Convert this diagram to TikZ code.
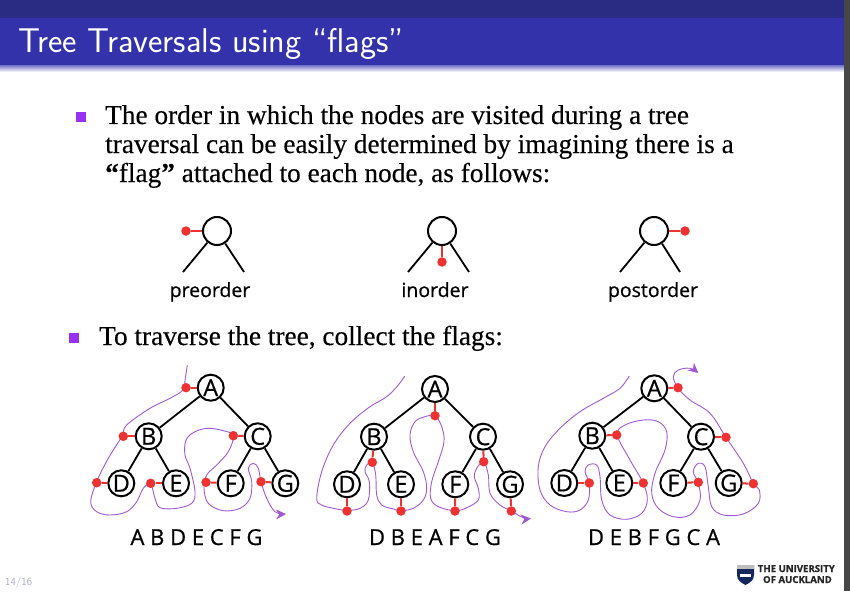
\documentclass[tikz,border=0pt]{standalone}
\usepackage{fontspec}
\setmainfont[RawFeature={embolden=0.25}]{Liberation Serif}
\newfontfamily\labelfont[RawFeature={embolden=0.7}]{Open Sans}
\usetikzlibrary{arrows.meta,shadings}
\definecolor{headdark}{RGB}{42,44,132}
\definecolor{headblue}{RGB}{52,50,170}
\definecolor{bulletpurple}{RGB}{150,50,240}
\definecolor{flagred}{RGB}{238,50,50}
\definecolor{tourpurple}{RGB}{160,90,215}
\definecolor{logoblue}{RGB}{22,40,90}
\definecolor{pagegray}{RGB}{170,170,210}
\tikzset{
  treenode/.style={circle, draw=black, line width=2pt, fill=white, minimum size=26pt, inner sep=0pt, font=\labelfont\fontsize{23.5}{23.5}\selectfont},
  treeedge/.style={line width=1.8pt, black},
  flag/.style={circle, fill=flagred, minimum size=9.5pt, inner sep=0pt},
  flagline/.style={line width=2pt, flagred},
  tour/.style={line width=0.9pt, tourpurple, smooth},
  bodytext/.style={anchor=base west, inner sep=0pt, font=\fontsize{27.3}{29}\selectfont},
  bulletmark/.style={fill=bulletpurple, minimum size=10pt, inner sep=0pt},
  caption/.style={anchor=base, inner sep=0pt, font=\labelfont\fontsize{19.5}{19.5}\selectfont},
  travtext/.style={anchor=base, inner sep=0pt, font=\labelfont\fontsize{22}{22}\selectfont},
  logotext/.style={anchor=base east, inner sep=0pt, text=black!85, font=\labelfont\bfseries\fontsize{9.6}{9.6}\selectfont}
}
\begin{document}
\begin{tikzpicture}[x=1pt, y=-1pt]
    \useasboundingbox (0,0) rectangle (850,591);
    \fill[white] (0,0) rectangle (850,591);

    % Header
    \fill[headdark] (0,0) rectangle (850,18);
    \fill[headblue] (0,18) rectangle (850,66);
    \shade[top color=headblue!60, bottom color=white] (0,66) rectangle (850,72);
    \node[anchor=base west, white, inner sep=0pt, font=\sffamily\fontsize{34.3}{34.3}\selectfont] (title) at (18,53) {Tree Traversals using ``flags''};
    \fill[black!72] (844,0) rectangle (850,591);

    % Text
    \node[bulletmark] (mark1) at (81,117) {};
    \node[bodytext] (line1) at (105,124) {The order in which the nodes are visited during a tree};
    \node[bodytext] (line2) at (105,153) {traversal can be easily determined by imagining there is a};
    \node[bodytext] (line3) at (105,182) {\textbf{``}flag\textbf{''} attached to each node, as follows:};
    \node[bulletmark] (mark2) at (74,338) {};
    \node[bodytext] (line4) at (99,345) {To traverse the tree, collect the flags:};

    % Preorder key
    \node[treenode, minimum size=28pt] (pre) at (217,231) {};
    \coordinate (preleft) at (183,272);
    \coordinate (preright) at (244,272);
    \draw[treeedge] (pre) -- (preleft);
    \draw[treeedge] (pre) -- (preright);
    \node[flag] (fpre) at (186,231) {};
    \draw[flagline] (fpre) -- (pre);
    \node[caption] (cpre) at (210,297) {preorder};

    % Inorder key
    \node[treenode, minimum size=28pt] (ino) at (442,231) {};
    \coordinate (inoleft) at (408,272);
    \coordinate (inoright) at (469,272);
    \draw[treeedge] (ino) -- (inoleft);
    \draw[treeedge] (ino) -- (inoright);
    \node[flag] (fino) at (442,262) {};
    \draw[flagline] (fino) -- (ino);
    \node[caption] (cino) at (435,297) {inorder};

    % Postorder key
    \node[treenode, minimum size=28pt] (post) at (654,231) {};
    \coordinate (postleft) at (620,272);
    \coordinate (postright) at (680,272);
    \draw[treeedge] (post) -- (postleft);
    \draw[treeedge] (post) -- (postright);
    \node[flag] (fpost) at (685,231) {};
    \draw[flagline] (fpost) -- (post);
    \node[caption] (cpost) at (653,297) {postorder};

    % First tree
    \node[treenode] (a1) at (210.7,387.7) {A};
    \node[treenode] (b1) at (148.7,436.3) {B};
    \node[treenode] (c1) at (257.7,436.3) {C};
    \node[treenode] (d1) at (121.3,483.3) {D};
    \node[treenode] (e1) at (176,483.3) {E};
    \node[treenode] (f1) at (230.7,483.3) {F};
    \node[treenode] (g1) at (285.3,483.3) {G};
    \draw[treeedge] (a1) -- (b1);
    \draw[treeedge] (a1) -- (c1);
    \draw[treeedge] (b1) -- (d1);
    \draw[treeedge] (b1) -- (e1);
    \draw[treeedge] (c1) -- (f1);
    \draw[treeedge] (c1) -- (g1);
    \draw[tour, -{Stealth[length=10pt,width=10pt]}] plot[smooth, tension=0.6] coordinates {(187.3,365) (185.3,378.3) (182.7,390) (170,398.3) (150,408.3) (126.7,425) (121.7,436.7) (108.3,458.3) (96.7,481.7) (90.7,501.7) (96.7,511.7) (110,515) (126.7,511.7) (136.7,501.7) (143.3,488.3) (150.7,484.3) (155,498.3) (160,507.7) (176.7,508.3) (191.7,503.3) (195,491.7) (190,468.3) (185,455) (186,440) (195,431.7) (208.3,428.3) (223.3,430.7) (233.3,435.7) (228.3,451.7) (216.7,465) (206.7,475) (204,488.3) (208.3,503.3) (223.3,510.7) (240,508.3) (250,498.3) (251.7,481.7) (248.3,468.3) (253.3,463.3) (258.3,468.3) (261,481.7) (266.7,498.3) (275,511.7) (286,514)};
    \node[flag] (fa1) at (186,387.7) {};
    \node[flag] (fb1) at (123.3,436.3) {};
    \node[flag] (fc1) at (233.3,435.7) {};
    \node[flag] (fd1) at (96.7,482.7) {};
    \node[flag] (fe1) at (150.7,483.3) {};
    \node[flag] (ff1) at (206,482.3) {};
    \node[flag] (fg1) at (261,481.7) {};
    \draw[flagline] (fa1) -- (a1);
    \draw[flagline] (fb1) -- (b1);
    \draw[flagline] (fc1) -- (c1);
    \draw[flagline] (fd1) -- (d1);
    \draw[flagline] (fe1) -- (e1);
    \draw[flagline] (ff1) -- (f1);
    \draw[flagline] (fg1) -- (g1);
    \node[travtext] (order1) at (196.5,545) {A B D E C F G};

    % Second tree
    \node[treenode] (a2) at (435,389) {A};
    \node[treenode] (b2) at (374,436.7) {B};
    \node[treenode] (c2) at (483,436.7) {C};
    \node[treenode] (d2) at (347,484.3) {D};
    \node[treenode] (e2) at (401,484.3) {E};
    \node[treenode] (f2) at (455.3,484.3) {F};
    \node[treenode] (g2) at (510,484.3) {G};
    \draw[treeedge] (a2) -- (b2);
    \draw[treeedge] (a2) -- (c2);
    \draw[treeedge] (b2) -- (d2);
    \draw[treeedge] (b2) -- (e2);
    \draw[treeedge] (c2) -- (f2);
    \draw[treeedge] (c2) -- (g2);
    \draw[tour, -{Stealth[length=10pt,width=10pt]}] plot[smooth, tension=0.6] coordinates {(404.7,376) (398.3,385) (386.7,396.7) (370,406.7) (350,423.3) (333.3,445) (321.7,471.7) (316.7,498.3) (321.7,505) (333.3,508.3) (347,510.3) (360,508.3) (368.3,500) (369.3,481.7) (365,471.7) (366.7,465) (372.3,462.3) (375.7,475) (376.7,495) (381.7,505) (393.3,509) (401,510.7) (413.3,508.3) (423.3,500) (426.7,488.3) (423.3,471.7) (413.3,451.7) (410,435) (415,421.7) (425,416.7) (435,415.7) (441.7,426.7) (444,441.7) (438.3,461.7) (431.7,481.7) (430.7,498.3) (438.3,506.7) (455,510.7) (466.7,507.7) (478.3,500) (478.3,488.3) (474.3,476.7) (476.7,468.3) (483.7,461.7) (488.3,475) (490,493.3) (500,505) (511.3,511) (523.3,517.7) (531,518.5)};
    \node[flag] (fa2) at (435,415.7) {};
    \node[flag] (fb2) at (372.3,462.3) {};
    \node[flag] (fc2) at (483.7,461.7) {};
    \node[flag] (fd2) at (347,511) {};
    \node[flag] (fe2) at (401,511) {};
    \node[flag] (ff2) at (455,511) {};
    \node[flag] (fg2) at (511.3,511) {};
    \draw[flagline] (fa2) -- (a2);
    \draw[flagline] (fb2) -- (b2);
    \draw[flagline] (fc2) -- (c2);
    \draw[flagline] (fd2) -- (d2);
    \draw[flagline] (fe2) -- (e2);
    \draw[flagline] (ff2) -- (f2);
    \draw[flagline] (fg2) -- (g2);
    \node[travtext] (order2) at (435,545) {D B E A F C G};

    % Third tree
    \node[treenode] (a3) at (654.3,388.3) {A};
    \node[treenode] (b3) at (592.3,435.7) {B};
    \node[treenode] (c3) at (701,436.7) {C};
    \node[treenode] (d3) at (564.3,483) {D};
    \node[treenode] (e3) at (619.3,483) {E};
    \node[treenode] (f3) at (673.3,483) {F};
    \node[treenode] (g3) at (728.7,483) {G};
    \draw[treeedge] (a3) -- (b3);
    \draw[treeedge] (a3) -- (c3);
    \draw[treeedge] (b3) -- (d3);
    \draw[treeedge] (b3) -- (e3);
    \draw[treeedge] (c3) -- (f3);
    \draw[treeedge] (c3) -- (g3);
    \draw[tour, -{Stealth[length=10pt,width=10pt]}] plot[smooth, tension=0.6] coordinates {(629.3,376) (620,388.3) (603.3,398.3) (580,411.7) (560,428.3) (545,446.7) (538.3,466.7) (540,490) (550,505) (566.7,511.7) (580,510) (588.3,500) (589.3,483.3) (585,471.7) (588.3,465) (596.7,465) (600,476.7) (601.7,500) (610,515) (626.7,519.3) (641.7,513.3) (647.3,500) (643.3,483.3) (630,460) (617.3,435) (625,425) (643.3,420) (658.3,421.7) (666.7,431.7) (665,450) (655,473.3) (651.7,493.3) (658.3,508.3) (673.3,516.7) (690,515) (700,500) (698.3,483.3) (693.3,471.7) (698.3,463.3) (705,466.7) (708.3,486.7) (711.7,506.7) (723.3,515) (743.3,514) (758.3,503.3) (759.3,490) (753.3,483.3) (743.3,463.3) (726,437.3) (710,413.3) (690,400) (678.3,388.3) (673.3,376.7) (678.3,370) (690,368.3) (698.3,373)};
    \node[flag] (fa3) at (678,387.7) {};
    \node[flag] (fb3) at (616.7,435) {};
    \node[flag] (fc3) at (726,437.3) {};
    \node[flag] (fd3) at (589.3,483) {};
    \node[flag] (fe3) at (643.3,483) {};
    \node[flag] (ff3) at (698.3,482.3) {};
    \node[flag] (fg3) at (753.3,483.7) {};
    \draw[flagline] (fa3) -- (a3);
    \draw[flagline] (fb3) -- (b3);
    \draw[flagline] (fc3) -- (c3);
    \draw[flagline] (fd3) -- (d3);
    \draw[flagline] (fe3) -- (e3);
    \draw[flagline] (ff3) -- (f3);
    \draw[flagline] (fg3) -- (g3);
    \node[travtext] (order3) at (654,545) {D E B F G C A};

    % Footer
    \node[anchor=base west, inner sep=0pt, text=pagegray, font=\sffamily\fontsize{11}{11}\selectfont] (page) at (5,585) {14/16};
    \fill[logoblue] (737,565) -- (754,565) -- (754,575) .. controls (754,581) and (749,583) .. (745.5,585) .. controls (742,583) and (737,581) .. (737,575) -- cycle;
    \fill[gray!50] (737,565) rectangle (754,569);
    \fill[white] (740,574) rectangle (751,577);
    \node[logotext] (logo1) at (835,572) {THE UNIVERSITY};
    \node[logotext] (logo2) at (832,583) {OF AUCKLAND};
\end{tikzpicture}
\end{document}
